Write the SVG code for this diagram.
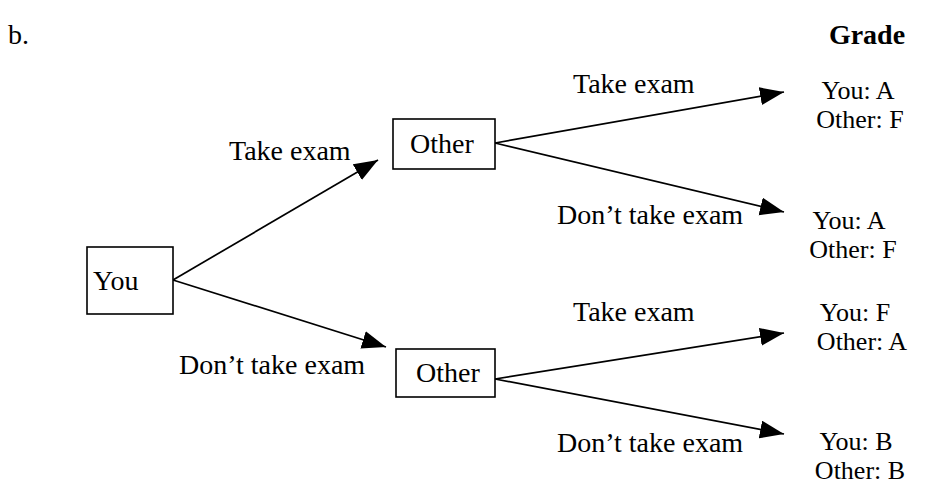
<svg xmlns="http://www.w3.org/2000/svg" width="926" height="486" viewBox="0 0 926 486">
<style>
text{font-family:"Liberation Serif","Times New Roman",serif;font-size:28px;fill:#000}
.b{font-weight:bold}
.c{text-anchor:middle}
.o{font-size:26px}
rect{fill:#fff;stroke:#000;stroke-width:1.6}
line{stroke:#000;stroke-width:1.7}
</style>
<defs>
<marker id="ah" markerUnits="userSpaceOnUse" markerWidth="26" markerHeight="20" refX="24" refY="9" orient="auto">
<path d="M0,0 L24,9 L0,18 z" fill="#000"/>
</marker>
</defs>
<text x="8" y="44">b.</text>
<text class="b c" x="867" y="44">Grade</text>
<g id="connectors">
<line x1="173" y1="280" x2="378" y2="160" marker-end="url(#ah)"/>
<line x1="173" y1="280" x2="386" y2="347" marker-end="url(#ah)"/>
<line x1="495" y1="143" x2="784" y2="92" marker-end="url(#ah)"/>
<line x1="495" y1="143" x2="784" y2="212" marker-end="url(#ah)"/>
<line x1="495" y1="379" x2="784" y2="333" marker-end="url(#ah)"/>
<line x1="495" y1="379" x2="784" y2="434" marker-end="url(#ah)"/>
<text x="229" y="160">Take exam</text>
<text x="179" y="374">Don’t take exam</text>
<text x="573" y="93">Take exam</text>
<text x="557" y="224">Don’t take exam</text>
<text x="573" y="321">Take exam</text>
<text x="557" y="452">Don’t take exam</text>
</g>
<g id="you">
<rect x="87" y="247" width="86" height="67"/>
<text x="93" y="290">You</text>
</g>
<g id="other-top">
<rect x="393" y="119" width="102" height="50"/>
<text x="410" y="153">Other</text>
</g>
<g id="other-bottom">
<rect x="396" y="349" width="99" height="48"/>
<text x="416" y="382">Other</text>
</g>
<g id="outcome-1">
<text class="c o" x="858" y="99">You: A</text>
<text class="c o" x="860" y="128">Other: F</text>
</g>
<g id="outcome-2">
<text class="c o" x="849" y="229">You: A</text>
<text class="c o" x="853" y="258">Other: F</text>
</g>
<g id="outcome-3">
<text class="c o" x="855" y="321">You: F</text>
<text class="c o" x="862" y="350">Other: A</text>
</g>
<g id="outcome-4">
<text class="c o" x="856" y="450">You: B</text>
<text class="c o" x="860" y="479">Other: B</text>
</g>
</svg>
